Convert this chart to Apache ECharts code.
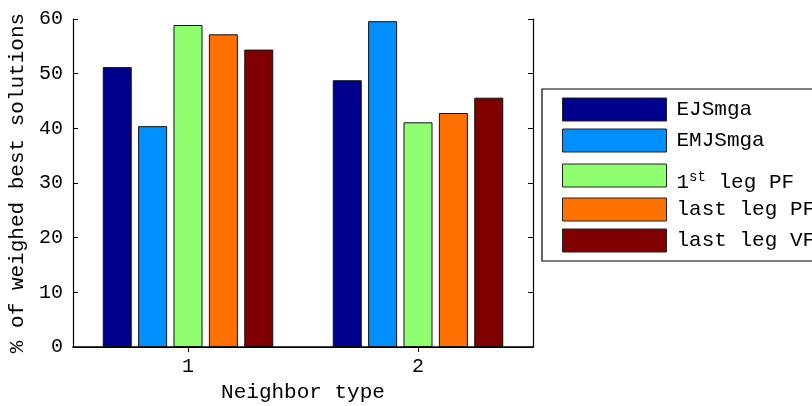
<!DOCTYPE html>
<html>
<head>
<meta charset="utf-8">
<script src="https://cdn.jsdelivr.net/npm/echarts@6/dist/echarts.min.js"></script>
<style>
  html, body { margin: 0; padding: 0; background: #fff; }
  #chart { width: 812px; height: 406px; }
</style>
</head>
<body>
<div id="chart"></div>
<script>
// Neighbor types on the x axis
const categories = ['1', '2'];

// Share (%) of weighed best solutions per method
const seriesNames = ['EJSmga', 'EMJSmga', '1st leg PF', 'last leg PF', 'last leg VF'];
const ejsmga    = [51.2, 48.8];
const emjsmga   = [40.4, 59.6];
const firstPF   = [58.9, 41.1];
const lastPF    = [57.2, 42.8];
const lastVF    = [54.4, 45.6];

const yTicks = [0, 10, 20, 30, 40, 50, 60];

const colors = ['#00008F', '#008FFF', '#8FFF70', '#FF7000', '#800000'];
const values = [ejsmga, emjsmga, firstPF, lastPF, lastVF];

const FONT = '"Liberation Mono", "Courier New", monospace';
const FS = 21;       // axis names and legend
const FS_TICK = 20;  // tick labels

const chart = echarts.init(document.getElementById('chart'), null, { renderer: 'canvas' });

const series = seriesNames.map((name, i) => ({
  name: name,
  type: 'bar',
  data: values[i],
  barWidth: 29,
  barGap: '22%',
  itemStyle: { color: colors[i], borderColor: '#111', borderWidth: 1 },
  emphasis: { disabled: true }
}));

// one legend per row so each swatch sits at its own height
const legendCenters = [109, 140, 175, 209, 240];
const legends = seriesNames.map((name, i) => {
  const hasSup = name === '1st leg PF';
  return {
    show: true,
    data: [name],
    left: 562,
    top: legendCenters[i] - 11.5,
    orient: 'vertical',
    padding: 0,
    icon: 'rect',
    itemWidth: 104,
    itemHeight: 23,
    itemStyle: { borderColor: '#222', borderWidth: 1 },
    selectedMode: false,
    z: 5,
    formatter: n => n === '1st leg PF' ? '1{sup|st} leg PF' : n,
    textStyle: {
      fontFamily: FONT, fontSize: FS, color: '#000',
      padding: hasSup ? [14, 0, 0, 5] : [0, 0, 0, 5],
      rich: {
        sup: { fontFamily: FONT, fontSize: 14, verticalAlign: 'top', padding: [0, 0, 10, 0] }
      }
    }
  };
});

chart.setOption({
  animation: false,
  backgroundColor: '#fff',
  textStyle: { fontFamily: FONT },
  graphic: [{
    type: 'rect',
    z: 0,
    shape: { x: 542, y: 89, width: 400, height: 172 },
    style: { fill: '#fff', stroke: '#000', lineWidth: 1.2 }
  }],
  legend: legends,
  grid: { left: 73, right: 279, top: 19, bottom: 59, show: false, outerBoundsMode: 'none', containLabel: false },
  xAxis: [{
    type: 'category',
    data: categories,
    position: 'bottom',
    name: 'Neighbor type',
    nameLocation: 'middle',
    nameGap: 30,
    nameTextStyle: { fontFamily: FONT, fontSize: FS, color: '#000' },
    axisLine: { show: true, lineStyle: { color: '#000', width: 1.5 } },
    axisTick: { show: true, inside: true, alignWithLabel: true, length: 5, lineStyle: { color: '#000' } },
    axisLabel: { fontFamily: FONT, fontSize: FS_TICK, color: '#000', margin: 10 },
    splitLine: { show: false }
  }, {
    type: 'category',
    data: categories,
    position: 'top',
    axisLine: { show: true, lineStyle: { color: '#000', width: 1.2 } },
    axisTick: { show: true, inside: true, alignWithLabel: true, length: 5, lineStyle: { color: '#000' } },
    axisLabel: { show: false },
    splitLine: { show: false }
  }],
  yAxis: [{
    type: 'value',
    min: yTicks[0],
    max: yTicks[yTicks.length - 1],
    interval: 10,
    position: 'left',
    name: '% of weighed best solutions',
    nameLocation: 'middle',
    nameGap: 43,
    nameRotate: 90,
    nameTextStyle: { fontFamily: FONT, fontSize: FS, color: '#000' },
    axisLine: { show: true, lineStyle: { color: '#000', width: 1.2 } },
    axisTick: { show: true, inside: true, length: 5, lineStyle: { color: '#000' } },
    axisLabel: { fontFamily: FONT, fontSize: FS_TICK, color: '#000', margin: 10 },
    splitLine: { show: false }
  }, {
    type: 'value',
    min: yTicks[0],
    max: yTicks[yTicks.length - 1],
    interval: 10,
    position: 'right',
    axisLine: { show: true, lineStyle: { color: '#000', width: 1.2 } },
    axisTick: { show: true, inside: true, length: 5, lineStyle: { color: '#000' } },
    axisLabel: { show: false },
    splitLine: { show: false }
  }],
  series: series
});
</script>
</body>
</html>
